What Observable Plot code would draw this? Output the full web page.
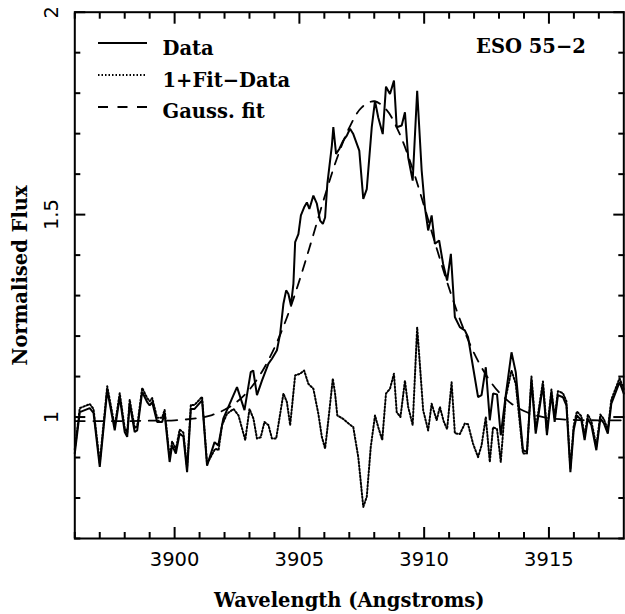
<!DOCTYPE html>
<html>
<head>
<meta charset="utf-8">
<script src="https://cdn.jsdelivr.net/npm/d3@7"></script>
<script src="https://cdn.jsdelivr.net/npm/@observablehq/plot@0.6"></script>
<style>
  html, body { margin: 0; padding: 0; background: #fff; }
  #chart svg { display: block; }
</style>
</head>
<body>
<div id="chart"></div>
<script>
// Observed spectrum: [wavelength (Å), normalised flux]
const dataPoints = [
  [3896.0,0.91],[3896.2,1.012],[3896.4,1.017],[3896.6,1.022],[3896.75,1.01],[3897.0,0.877],
  [3897.3,1.066],[3897.6,0.967],[3897.8,1.049],[3898.0,0.963],[3898.1,0.951],[3898.2,1.033],
  [3898.4,0.963],[3898.5,0.967],[3898.7,1.062],[3898.9,1.037],[3899.0,1.029],[3899.1,1.037],
  [3899.3,0.988],[3899.5,0.988],[3899.6,1.008],[3899.8,0.889],[3899.9,0.93],[3900.05,0.91],
  [3900.2,0.959],[3900.35,0.952],[3900.5,0.864],[3900.65,1.02],[3900.8,1.02],[3901.1,1.041],
  [3901.3,0.88],[3901.6,0.938],[3901.75,0.93],[3901.95,0.996],[3902.35,1.053],[3902.5,1.074],
  [3902.8,1.017],[3903.05,1.111],[3903.15,1.115],[3903.3,1.054],[3903.5,1.09],[3903.76,1.132],
  [3903.9,1.144],[3904.1,1.165],[3904.23,1.206],[3904.36,1.28],[3904.47,1.313],[3904.56,1.304],
  [3904.66,1.276],[3904.76,1.329],[3904.83,1.432],[3904.96,1.452],[3905.06,1.498],[3905.19,1.518],
  [3905.3,1.53],[3905.4,1.514],[3905.56,1.547],[3905.7,1.527],[3905.83,1.485],[3905.94,1.477],
  [3906.03,1.493],[3906.12,1.576],[3906.3,1.67],[3906.36,1.716],[3906.47,1.65],[3906.6,1.662],
  [3906.76,1.683],[3906.9,1.695],[3907.03,1.712],[3907.16,1.699],[3907.4,1.658],[3907.56,1.539],
  [3907.7,1.563],[3907.9,1.716],[3908.03,1.781],[3908.16,1.74],[3908.34,1.699],[3908.47,1.816],
  [3908.63,1.798],[3908.79,1.831],[3908.9,1.716],[3909.1,1.72],[3909.23,1.753],[3909.36,1.641],
  [3909.54,1.584],[3909.72,1.806],[3909.9,1.609],[3910.03,1.518],[3910.16,1.461],[3910.3,1.498],
  [3910.43,1.428],[3910.6,1.436],[3910.76,1.378],[3910.92,1.337],[3911.07,1.403],[3911.23,1.247],
  [3911.43,1.222],[3911.63,1.214],[3911.76,1.197],[3911.96,1.123],[3912.16,1.049],[3912.3,1.054],
  [3912.47,1.123],[3912.63,0.992],[3912.76,1.058],[3912.92,1.056],[3913.07,0.955],[3913.27,1.054],
  [3913.5,1.16],[3913.67,1.111],[3913.96,0.918],[3914.12,0.914],[3914.3,1.091],[3914.47,0.959],
  [3914.76,1.078],[3914.92,0.955],[3915.1,1.058],[3915.23,0.988],[3915.36,1.054],[3915.56,1.049],
  [3915.7,1.029],[3915.86,0.864],[3915.99,0.967],[3916.12,1.004],[3916.3,0.992],[3916.43,0.943],
  [3916.56,0.996],[3916.7,0.98],[3916.9,0.918],[3917.06,0.996],[3917.2,0.985],[3917.36,0.959],
  [3917.5,1.033],[3917.83,1.086],[3918.0,1.058]
];

// Residual curve ("1+Fit-Data"), dotted
const residualPoints = [
  [3896.0,0.92],[3896.2,1.022],[3896.4,1.027],[3896.6,1.032],[3896.75,1.02],[3897.0,0.887],
  [3897.3,1.076],[3897.6,0.977],[3897.8,1.059],[3898.0,0.973],[3898.1,0.961],[3898.2,1.043],
  [3898.4,0.973],[3898.5,0.977],[3898.7,1.072],[3898.9,1.047],[3899.0,1.039],[3899.1,1.047],
  [3899.3,0.998],[3899.5,0.998],[3899.6,1.018],[3899.8,0.899],[3899.9,0.94],[3900.05,0.92],
  [3900.2,0.969],[3900.35,0.962],[3900.5,0.874],[3900.65,1.03],[3900.8,1.03],[3901.1,1.05],
  [3901.3,0.885],[3901.63,0.922],[3901.76,0.918],[3901.9,0.98],[3902.1,1.008],[3902.36,1.02],
  [3902.56,1.004],[3902.83,0.943],[3903.0,1.02],[3903.16,0.996],[3903.3,0.947],[3903.45,0.95],
  [3903.6,0.988],[3903.76,0.98],[3903.9,0.947],[3904.07,0.947],[3904.36,1.058],[3904.5,1.037],
  [3904.63,0.98],[3904.83,1.103],[3905.03,1.107],[3905.19,1.115],[3905.36,1.082],[3905.56,1.07],
  [3905.76,1.008],[3905.9,0.951],[3906.03,0.922],[3906.16,0.992],[3906.34,1.095],[3906.43,1.058],
  [3906.52,1.004],[3906.74,0.996],[3906.97,0.984],[3907.16,0.975],[3907.36,0.901],[3907.56,0.778],
  [3907.7,0.803],[3907.86,0.926],[3908.03,1.004],[3908.16,0.975],[3908.32,0.943],[3908.47,1.058],
  [3908.63,1.07],[3908.79,1.107],[3908.9,1.012],[3909.05,1.0],[3909.23,1.09],[3909.36,1.025],
  [3909.54,0.98],[3909.72,1.222],[3909.96,1.017],[3910.16,0.967],[3910.3,1.033],[3910.5,0.992],
  [3910.63,1.025],[3910.78,0.99],[3910.92,0.97],[3911.1,1.086],[3911.23,0.96],[3911.43,0.958],
  [3911.63,0.984],[3911.76,0.982],[3911.96,0.934],[3912.16,0.901],[3912.3,0.93],[3912.47,1.0],
  [3912.63,0.889],[3912.76,0.975],[3912.92,0.97],[3913.07,0.889],[3913.27,1.049],[3913.5,1.115],
  [3913.67,1.082],[3913.96,0.91],[3914.12,0.91],[3914.3,1.1],[3914.47,0.969],[3914.76,1.088],
  [3914.92,0.965],[3915.1,1.068],[3915.23,0.998],[3915.36,1.064],[3915.56,1.059],[3915.7,1.039],
  [3915.86,0.874],[3915.99,0.977],[3916.12,1.014],[3916.3,1.002],[3916.43,0.953],[3916.56,1.006],
  [3916.7,0.99],[3916.9,0.928],[3917.06,1.006],[3917.2,0.995],[3917.36,0.969],[3917.5,1.043],
  [3917.83,1.096],[3918.0,1.068]
];

// Gaussian fit, dashed
const fitPoints = [
  [3896,0.99],[3897,0.99],[3898,0.99],[3899,0.991],[3900,0.992],[3901,0.998],[3901.5,1.005],
  [3902,1.018],[3902.5,1.038],[3903,1.068],[3903.5,1.112],[3904,1.171],[3904.5,1.246],
  [3905,1.337],[3905.5,1.438],[3906,1.542],[3906.5,1.638],[3907,1.715],[3907.5,1.765],
  [3908,1.78],[3908.5,1.758],[3909,1.702],[3909.5,1.62],[3910,1.521],[3910.5,1.417],
  [3911,1.318],[3911.5,1.23],[3912,1.158],[3912.5,1.102],[3913,1.061],[3913.5,1.033],
  [3914,1.015],[3914.5,1.004],[3915,0.997],[3916,0.993],[3917,0.992],[3918,0.992]
];

const xMajorTicks = [3900, 3905, 3910, 3915];
const xMinorTicks = [3896,3897,3898,3899,3901,3902,3903,3904,3906,3907,3908,3909,3911,3912,3913,3914,3916,3917];
const yMajorTicks = [1, 1.5, 2];
const yMinorTicks = [0.7,0.8,0.9,1.1,1.2,1.3,1.4,1.6,1.7,1.8,1.9];

const xLabel = "Wavelength (Angstroms)";
const yLabel = "Normalised Flux";
const objectName = "ESO 55\u22122";
const legendLabels = ["Data", "1+Fit\u2212Data", "Gauss. fit"];
const legendDashes = [null, "1.5,2", "10,9.5"];

const serif = "'DejaVu Serif', serif";
const sans = "'DejaVu Sans', sans-serif";

const W = 625, H = 614;
const minorLen = 6, majorLen = 11;
const tk = {text: null, label: null, stroke: "black", strokeWidth: 2};

const plot = Plot.plot({
  width: W,
  height: H,
  marginLeft: 74.3,
  marginRight: 1.7,
  marginTop: 11.7,
  marginBottom: 76,
  x: {domain: [3896, 3918]},
  y: {domain: [0.7, 2]},
  style: {background: "white", color: "black", fontFamily: serif, overflow: "visible"},
  marks: [
    Plot.line(fitPoints, {x: d => d[0], y: d => d[1], stroke: "black", strokeWidth: 1.8, strokeDasharray: "10,8.5", curve: "catmull-rom"}),
    Plot.line(residualPoints, {x: d => d[0], y: d => d[1], stroke: "black", strokeWidth: 2, strokeDasharray: "1.5,2"}),
    Plot.line(dataPoints, {x: d => d[0], y: d => d[1], stroke: "black", strokeWidth: 2, strokeLinejoin: "miter"}),
    Plot.frame({stroke: "black", strokeWidth: 2}),
    // inward ticks on all four sides
    Plot.axisX(xMinorTicks, {anchor: "bottom", tickSize: -minorLen, ...tk}),
    Plot.axisX(xMajorTicks, {anchor: "bottom", tickSize: -majorLen, ...tk}),
    Plot.axisX(xMinorTicks, {anchor: "top", tickSize: -minorLen, ...tk}),
    Plot.axisX(xMajorTicks, {anchor: "top", tickSize: -majorLen, ...tk}),
    Plot.axisY(yMinorTicks, {anchor: "left", tickSize: -minorLen, ...tk}),
    Plot.axisY(yMajorTicks, {anchor: "left", tickSize: -majorLen, ...tk}),
    Plot.axisY(yMinorTicks, {anchor: "right", tickSize: -minorLen, ...tk}),
    Plot.axisY(yMajorTicks, {anchor: "right", tickSize: -majorLen, ...tk}),
    // tick labels
    Plot.axisX(xMajorTicks, {anchor: "bottom", tickSize: 0, tickPadding: 13.5, label: null, fontSize: 19.5, fontFamily: sans, tickFormat: d => String(d)}),
    Plot.axisY(yMajorTicks, {anchor: "left", tickSize: 0, tickPadding: 17, tickRotate: -90, label: null, fontSize: 19.5, fontFamily: sans, tickFormat: d => String(d)}),
    // titles and annotations
    Plot.text([xLabel], {frameAnchor: "bottom", dy: 62, fontSize: 19.5, fontWeight: "bold", fontFamily: serif, lineAnchor: "middle", textAnchor: "middle"}),
    Plot.text([yLabel], {frameAnchor: "left", dx: -54, rotate: -90, fontSize: 19.5, fontWeight: "bold", fontFamily: serif, lineAnchor: "middle", textAnchor: "middle"}),
    Plot.text([objectName], {frameAnchor: "top-right", dx: -38, dy: 35, textAnchor: "end", lineAnchor: "middle", fontSize: 19.5, fontWeight: "bold", fontFamily: serif}),
    Plot.text([legendLabels.join("\n")], {frameAnchor: "top-left", dx: 87.7, dy: 20.5, textAnchor: "start", lineAnchor: "top", lineHeight: 1.62, fontSize: 19.5, fontWeight: "bold", fontFamily: serif})
  ]
});

document.getElementById("chart").appendChild(plot);

// legend line samples
const svg = d3.select(plot);
const g = svg.append("g").attr("stroke", "black").attr("stroke-width", 2);
legendDashes.forEach((dash, i) => {
  const y = 43 + i * 32;
  const ln = g.append("line").attr("x1", 98).attr("x2", 147).attr("y1", y).attr("y2", y);
  if (dash) ln.attr("stroke-dasharray", dash);
  if (i > 0) ln.attr("stroke-width", 1.8);
});
</script>
</body>
</html>
